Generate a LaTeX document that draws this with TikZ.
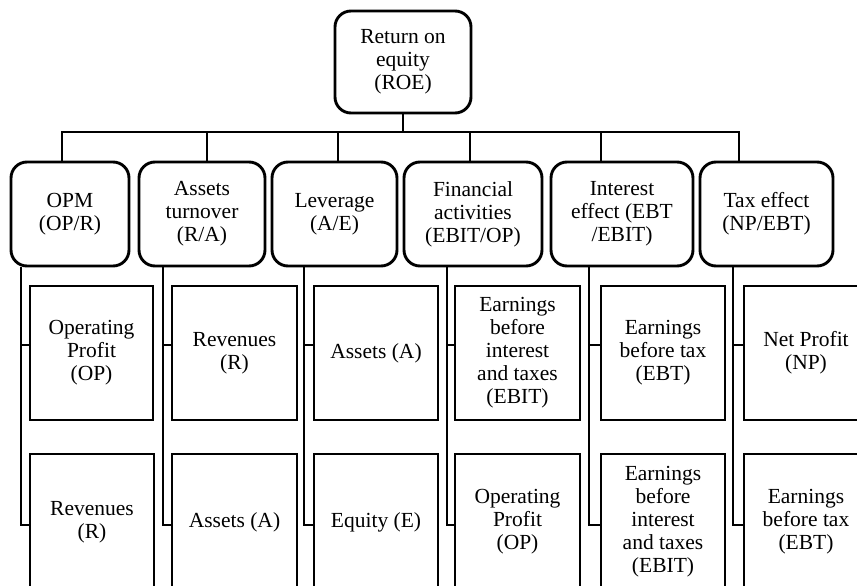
\documentclass[tikz,border=0pt]{standalone}
\usepackage{fontspec}
\setmainfont{Liberation Serif}
\begin{document}
\begin{tikzpicture}[x=1pt,y=-1pt,
  lw/.style={line width=2.9pt},
  rbox/.style={lw,draw,rounded corners=16pt,align=center,inner sep=0pt,
    font=\fontsize{21.5}{23}\selectfont},
  sbox/.style={lw,draw,align=center,inner sep=0pt,
    font=\fontsize{21.5}{23}\selectfont},
  conn/.style={lw}]
\useasboundingbox (0,0) rectangle (857,586);
\clip (0,0) rectangle (857,586);
% top node
\node[rbox,minimum width=136pt,minimum height=102pt] (roe) at (403,62) {Return on\\equity\\(ROE)};
% level 2
\node[rbox,minimum width=118pt,minimum height=104pt] (opm) at (70,214) {OPM\\(OP/R)};
\node[rbox,minimum width=126pt,minimum height=104pt] (atn) at (202,214) {Assets\\turnover\\(R/A)};
\node[rbox,minimum width=125pt,minimum height=104pt] (lev) at (334.5,214) {Leverage\\(A/E)};
\node[rbox,minimum width=138pt,minimum height=104pt] (fin) at (473,214) {Financial\\activities\\(EBIT/OP)};
\node[rbox,minimum width=142pt,minimum height=104pt] (int) at (622,214) {Interest\\effect (EBT\\/EBIT)};
\node[rbox,minimum width=133pt,minimum height=104pt] (tax) at (766.5,214) {Tax effect\\(NP/EBT)};
% level 3 row 1
\node[sbox,minimum width=123pt,minimum height=134pt] (a1) at (91.5,353) {Operating\\Profit\\(OP)};
\node[sbox,minimum width=125pt,minimum height=134pt] (b1) at (234.5,353) {Revenues\\(R)};
\node[sbox,minimum width=124pt,minimum height=134pt] (c1) at (376,353) {Assets (A)};
\node[sbox,minimum width=125pt,minimum height=134pt] (d1) at (517.5,353) {Earnings\\before\\interest\\and taxes\\(EBIT)};
\node[sbox,minimum width=124pt,minimum height=134pt] (e1) at (663,353) {Earnings\\before tax\\(EBT)};
\node[sbox,minimum width=124pt,minimum height=134pt] (f1) at (806,353) {Net Profit\\(NP)};
% level 3 row 2
\node[sbox,minimum width=124pt,minimum height=136pt] (a2) at (92,522) {Revenues\\(R)};
\node[sbox,minimum width=125pt,minimum height=136pt] (b2) at (234.5,522) {Assets (A)};
\node[sbox,minimum width=124pt,minimum height=136pt] (c2) at (376,522) {Equity (E)};
\node[sbox,minimum width=125pt,minimum height=136pt] (d2) at (517.5,522) {Operating\\Profit\\(OP)};
\node[sbox,minimum width=124pt,minimum height=136pt] (e2) at (663,522) {Earnings\\before\\interest\\and taxes\\(EBIT)};
\node[sbox,minimum width=124pt,minimum height=136pt] (f2) at (806,522) {Earnings\\before tax\\(EBT)};
% bar from ROE
\coordinate (bar) at (0,132);
\coordinate (k1) at (62,132);
\coordinate (k2) at (207,132);
\coordinate (k3) at (338,132);
\coordinate (k4) at (470,132);
\coordinate (k5) at (601,132);
\coordinate (k6) at (739,132);
\draw[conn] (roe.south) -- (roe.south |- bar);
\draw[conn] (opm.north -| k1) -- (k1) -- (k6) -- (tax.north -| k6);
\draw[conn] (k2) -- (atn.north -| k2);
\draw[conn] (k3) -- (lev.north -| k3);
\draw[conn] (k4) -- (fin.north -| k4);
\draw[conn] (k5) -- (int.north -| k5);
% vertical branches
\coordinate (t1) at (0,345);
\coordinate (t2) at (0,525);
\coordinate (v1) at (21,0);
\coordinate (v2) at (163,0);
\coordinate (v3) at (304,0);
\coordinate (v4) at (447,0);
\coordinate (v5) at (589,0);
\coordinate (v6) at (733,0);
\draw[conn] (opm.south -| v1) -- (v1 |- t2) -- (a2.west |- t2);
\draw[conn] (v1 |- t1) -- (a1.west |- t1);
\draw[conn] (atn.south -| v2) -- (v2 |- t2) -- (b2.west |- t2);
\draw[conn] (v2 |- t1) -- (b1.west |- t1);
\draw[conn] (lev.south -| v3) -- (v3 |- t2) -- (c2.west |- t2);
\draw[conn] (v3 |- t1) -- (c1.west |- t1);
\draw[conn] (fin.south -| v4) -- (v4 |- t2) -- (d2.west |- t2);
\draw[conn] (v4 |- t1) -- (d1.west |- t1);
\draw[conn] (int.south -| v5) -- (v5 |- t2) -- (e2.west |- t2);
\draw[conn] (v5 |- t1) -- (e1.west |- t1);
\draw[conn] (tax.south -| v6) -- (v6 |- t2) -- (f2.west |- t2);
\draw[conn] (v6 |- t1) -- (f1.west |- t1);
\end{tikzpicture}
\end{document}
